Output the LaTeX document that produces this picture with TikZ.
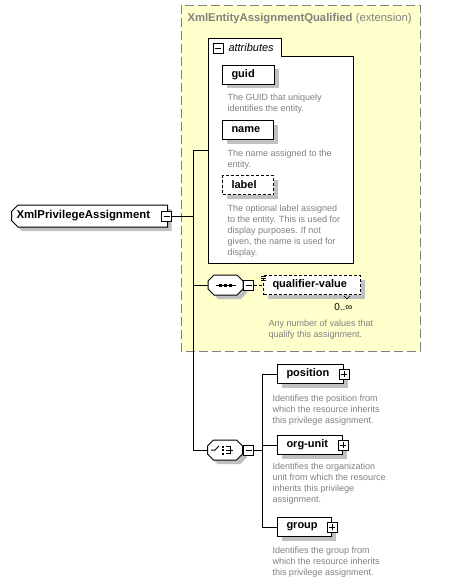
\documentclass[tikz,border=0pt]{standalone}
\usepackage{fontspec}
\setmainfont{Liberation Sans}
\usepackage{tikz}
\usetikzlibrary{positioning, shapes.misc, shadows}

\definecolor{extfill}{HTML}{FFFFCC}
\definecolor{extline}{HTML}{808080}
\definecolor{desctext}{HTML}{808080}
\definecolor{shadegray}{HTML}{C0C0C0}

\begin{document}
\begin{tikzpicture}[x=1pt, y=-1pt, line width=1pt]
    % Define styles
    \tikzset{
        shade/.style={drop shadow={shadow xshift=4pt, shadow yshift=-4pt, fill=shadegray, opacity=1}},
        elem/.style={rectangle, draw, fill=white, shade, anchor=west, align=left, inner xsep=9pt, inner ysep=0pt, minimum height=19pt, font=\fontsize{11}{13}\selectfont\bfseries},
        optelem/.style={elem, dash pattern=on 3pt off 2pt},
        desc/.style={anchor=north west, align=left, inner sep=0pt, text=desctext, font=\fontsize{9}{11}\selectfont},
        compositor/.style={chamfered rectangle, chamfered rectangle xsep=2.5pt, draw, fill=white, shade, minimum width=35pt, minimum height=20pt, inner sep=5pt},
        minusbox/.style={rectangle, draw, fill=white, minimum size=10pt, inner sep=0pt, path picture={\draw ([xshift=2pt]path picture bounding box.west) -- ([xshift=-2pt]path picture bounding box.east);}},
        plusbox/.style={rectangle, draw, fill=white, minimum size=10pt, inner sep=0pt, path picture={\draw ([xshift=2pt]path picture bounding box.west) -- ([xshift=-2pt]path picture bounding box.east); \draw ([yshift=-2pt]path picture bounding box.north) -- ([yshift=2pt]path picture bounding box.south);}}
    }
    \useasboundingbox (0,0) rectangle (462,581);

    % Extension frame
    \draw[extline, fill=extfill, dash pattern=on 9pt off 4pt] (181,5) rectangle (420,351);
    \node (ext) [anchor=west, inner sep=0pt, text=extline, font=\fontsize{11.3}{13}\selectfont] at (187,19) {\textbf{XmlEntityAssignmentQualified} (extension)};

    % Attributes panel
    \draw[fill=white] (208,38) -| (281,56) -| (353,263) -| (208,38) -- cycle;
    \node (attrminus) [minusbox] at (218,48) {};
    \node (attr) [anchor=west, inner sep=0pt, font=\fontsize{11}{13}\selectfont\itshape] at (228,48) {attributes};
    \coordinate (attrjoin) at (208,150);

    \node (guid) [elem, text width=34pt] at (222,74.5) {guid};
    \node (guiddesc) [desc] at ([xshift=5pt, yshift=-9pt]guid.south west) {The GUID that uniquely\\identifies the entity.};
    \node (name) [elem, text width=33pt] at (222,130) {name};
    \node (namedesc) [desc] at ([xshift=5pt, yshift=-9pt]name.south west) {The name assigned to the\\entity.};
    \node (label) [optelem, text width=33pt] at (222,185) {label};
    \node (labeldesc) [desc] at ([xshift=5pt, yshift=-9pt]label.south west) {The optional label assigned\\to the entity. This is used for\\display purposes. If not\\given, the name is used for\\display.};

    % Root element
    \node (main) [chamfered rectangle, chamfered rectangle corners={north west, south west}, chamfered rectangle xsep=3pt, draw, fill=white, shade, anchor=west, text width=146pt, align=left, inner xsep=2pt, inner ysep=0pt, minimum height=22pt, font=\fontsize{11.4}{13}\selectfont\bfseries] at (11,216) {XmlPrivilegeAssignment};
    \node (mainminus) [minusbox] at ([xshift=-1.5pt]main.east) {};

    % Sequence of qualifier values
    \node (seq) [compositor] at (225.5,285) {};
    \draw ([xshift=-10pt]seq.center) -- ([xshift=10pt]seq.center);
    \foreach \d in {-5,0,5}
        \fill ([xshift=\d pt]seq.center) ++(-1.5pt,-1.5pt) rectangle ++(3pt,3pt);
    \node (seqminus) [minusbox] at ([xshift=5pt]seq.east) {};
    \node (qualifier) [optelem, text width=79pt] at (263,285) {qualifier-value};
    \foreach \d in {1,3,5}
        \draw[line width=0.6pt] ([xshift=-2pt, yshift=-\d pt]qualifier.north west) -- ++(5pt,0);
    \draw[line width=0.6pt] ([xshift=-17pt, yshift=-1pt]qualifier.south east) -- ++(3pt,-3pt) -- ++(3pt,3pt);
    \node (qualifiercard) [anchor=north east, inner sep=0pt, font=\fontsize{10}{12}\selectfont] at ([xshift=-8pt, yshift=-8pt]qualifier.south east) {0..∞};
    \node (qualifierdesc) [desc] at ([xshift=5pt, yshift=-24pt]qualifier.south west) {Any number of values that\\qualify this assignment.};

    % Choice of scope
    \node (choice) [compositor] at (225,450) {};
    \draw ([xshift=-14pt]choice.center) -- ([xshift=-10pt]choice.center) -- ([xshift=-6pt, yshift=4pt]choice.center);
    \foreach \d in {-3.5,0,3.5}
        \fill ([xshift=-2pt, yshift=\d pt]choice.center) ++(-1pt,-1pt) rectangle ++(2pt,2pt);
    \draw ([xshift=1pt, yshift=3.5pt]choice.center) -- ([xshift=5pt, yshift=3.5pt]choice.center) -- ([xshift=5pt, yshift=-3.5pt]choice.center) -- ([xshift=1pt, yshift=-3.5pt]choice.center);
    \draw ([xshift=1pt]choice.center) -- ([xshift=8pt]choice.center);
    \node (choiceminus) [minusbox] at ([xshift=5.5pt]choice.east) {};

    \node (position) [elem, text width=48pt] at (277,374) {position};
    \node (positionplus) [plusbox] at (position.east) {};
    \node (positiondesc) [desc] at ([xshift=-5pt, yshift=-10pt]position.south west) {Identifies the position from\\which the resource inherits\\this privilege assignment.};
    \node (orgunit) [elem, text width=47pt] at (277,445) {org-unit};
    \node (orgunitplus) [plusbox] at (orgunit.east) {};
    \node (orgunitdesc) [desc] at ([xshift=-5pt, yshift=-7pt]orgunit.south west) {Identifies the organization\\unit from which the resource\\inherits this privilege\\assignment.};
    \node (group) [elem, text width=36pt] at (277,527) {group};
    \node (groupplus) [plusbox] at (group.east) {};
    \node (groupdesc) [desc] at ([xshift=-5pt, yshift=-9pt]group.south west) {Identifies the group from\\which the resource inherits\\this privilege assignment.};

    % Connectors
    \coordinate (trunk) at (193,0);
    \coordinate (fork) at (262,0);
    \draw (mainminus.east) -- (trunk |- mainminus.east);
    \draw (attrjoin) -| (trunk |- choice.west) -- (choice.west);
    \draw (trunk |- seq.west) -- (seq.west);
    \draw[dash pattern=on 3pt off 2pt] (seqminus.east) -- (qualifier.west);
    \draw (choiceminus.east) -- (fork |- choiceminus.east);
    \draw (position.west) -| (fork |- group.west) -- (group.west);
    \draw (fork |- orgunit.west) -- (orgunit.west);
\end{tikzpicture}
\end{document}
